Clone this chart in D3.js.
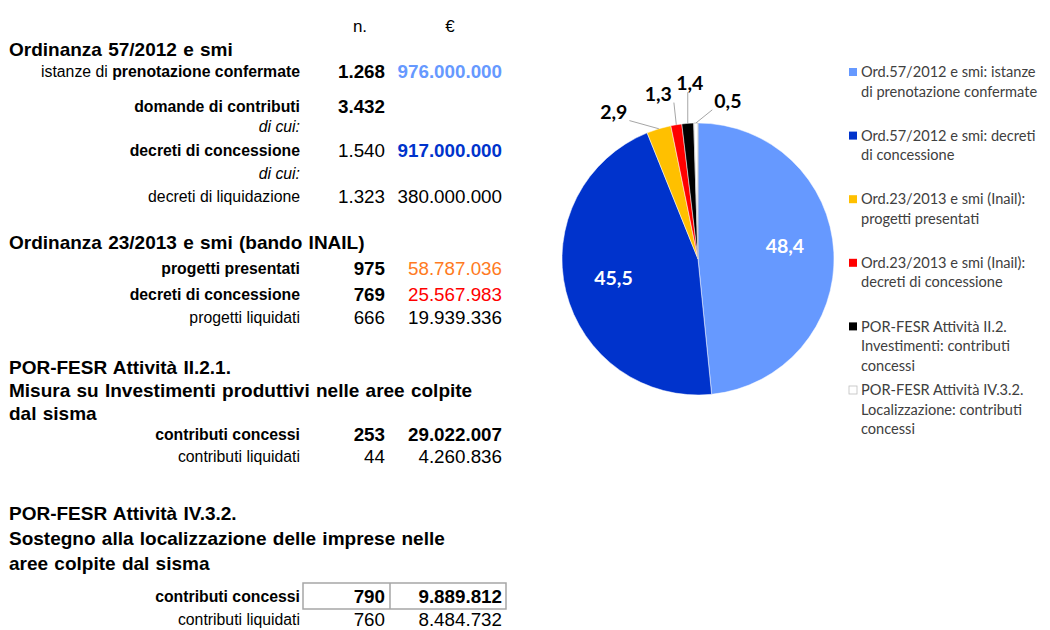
<!DOCTYPE html>
<html>
<head>
<meta charset="utf-8">
<script src="https://cdn.jsdelivr.net/npm/d3@7"></script>
<style>
    body { margin: 0; background: #ffffff; }
    svg { display: block; }
</style>
</head>
<body>
<script>

//  ---- data -------------------------------------------------------------

const columnHeads = ["n.", "€"];

const sectionTitles = [
    ["Ordinanza 57/2012 e smi"],
    ["Ordinanza 23/2013 e smi (bando INAIL)"],
    ["POR-FESR Attività II.2.1.", "Misura su Investimenti produttivi nelle aree colpite", "dal sisma"],
    ["POR-FESR Attività IV.3.2.", "Sostegno alla localizzazione delle imprese nelle", "aree colpite dal sisma"]
];

const rowSection = [0, 0, 0, 0, 0, 0, 1, 1, 1, 2, 2, 3, 3];

const rowLabels = [
    "istanze di prenotazione confermate",
    "domande di contributi",
    "di cui:",
    "decreti di concessione",
    "di cui:",
    "decreti di liquidazione",
    "progetti presentati",
    "decreti di concessione",
    "progetti liquidati",
    "contributi concessi",
    "contributi liquidati",
    "contributi concessi",
    "contributi liquidati"
];

const rowCounts = [1268, 3432, null, 1540, null, 1323, 975, 769, 666, 253, 44, 790, 760];

const rowAmounts = [976000000, null, null, 917000000, null, 380000000,
    58787036, 25567983, 19939336, 29022007, 4260836, 9889812, 8484732];

const sliceNames = [
    ["Ord.57/2012 e smi: istanze", "di prenotazione confermate"],
    ["Ord.57/2012 e smi: decreti", "di concessione"],
    ["Ord.23/2013 e smi (Inail):", "progetti presentati"],
    ["Ord.23/2013 e smi (Inail):", "decreti di concessione"],
    ["POR-FESR Attività II.2.", "Investimenti: contributi", "concessi"],
    ["POR-FESR Attività IV.3.2.", "Localizzazione: contributi", "concessi"]
];

const sliceShares = [48.4, 45.5, 2.9, 1.3, 1.4, 0.5];

//  ---- styles & layout ----------------------------------------------------

const sliceColors = ["#6699ff", "#0033cc", "#ffc000", "#ff0000", "#000000", "#ffffff"];

//  label style: "mix" = first words regular, the rest bold
const rowLabelStyle = ["mix", "bold", "italic", "bold", "italic", "normal",
    "bold", "bold", "normal", "bold", "normal", "bold", "normal"];
const rowCountBold = [1, 1, 0, 0, 0, 0, 1, 1, 0, 1, 0, 1, 0];
const rowAmountBold = [1, 0, 0, 1, 0, 0, 0, 0, 0, 1, 0, 1, 0];
const rowAmountColor = ["#6699ff", null, null, "#0033cc", null, null,
    "#ff7a22", "#ff0000", null, null, null, null, null];
const boxedRow = 11;

//  vertical gap before each line of the table (titles and rows, in order)
const lineGap = [49, 22, 35, 20, 24, 23, 23, 46, 26, 26, 23, 50, 23, 23, 21, 22, 57, 25, 25, 33, 23];

const W = 1050, H = 630;
const tableFont = "'Liberation Sans', Arial, sans-serif";
const chartFont = "Lato, 'Open Sans', sans-serif";

const itLocale = d3.formatLocale({decimal: ",", thousands: ".", grouping: [3], currency: ["", "€"]});
const fmtInt = itLocale.format(",d");
const fmtShare = itLocale.format(".1f");

const svg = d3.select("body").append("svg")
    .attr("width", W)
    .attr("height", H);

//  ---- table --------------------------------------------------------------

const col = {title: 9, label: 300, count: 385, amount: 502};

//  flatten titles and rows into lines
const lines = [];
sectionTitles.forEach((titles, s) => {
    titles.forEach(t => lines.push({kind: "title", text: t}));
    rowSection.forEach((sec, i) => {
        if (sec === s) lines.push({kind: "row", i: i});
    });
});
let yAcc = 0;
lines.forEach((l, k) => {
    yAcc += lineGap[k];
    l.y = yAcc;
});

const table = svg.append("g").attr("font-family", tableFont).attr("fill", "#000");

table.selectAll("text.head")
    .data(columnHeads)
    .join("text")
    .attr("class", "head")
    .attr("x", (d, i) => i === 0 ? 360 : 450)
    .attr("y", 26)
    .attr("dy", "0.35em")
    .attr("text-anchor", "middle")
    .attr("font-size", 17)
    .text(d => d);

table.selectAll("text.title")
    .data(lines.filter(l => l.kind === "title"))
    .join("text")
    .attr("class", "title")
    .attr("x", col.title)
    .attr("y", d => d.y)
    .attr("dy", "0.35em")
    .attr("font-size", 19)
    .attr("font-weight", "bold")
    .attr("word-spacing", 1)
    .text(d => d.text);

const rowLines = lines.filter(l => l.kind === "row");

//  box round the highlighted row
const boxed = rowLines.find(l => l.i === boxedRow);
const box = table.append("g")
    .attr("fill", "none")
    .attr("stroke", "#a6a6a6")
    .attr("stroke-width", 1.5);
box.append("rect")
    .attr("x", 303).attr("y", boxed.y - 13)
    .attr("width", 203).attr("height", 26);
box.append("line")
    .attr("x1", 390).attr("x2", 390)
    .attr("y1", boxed.y - 13).attr("y2", boxed.y + 13);

const labels = table.selectAll("text.label")
    .data(rowLines)
    .join("text")
    .attr("class", "label")
    .attr("x", col.label)
    .attr("y", d => d.y)
    .attr("dy", "0.35em")
    .attr("text-anchor", "end")
    .attr("font-size", 15.8);

labels.each(function (d) {
    const t = d3.select(this);
    const label = rowLabels[d.i];
    const style = rowLabelStyle[d.i];
    if (style === "mix") {
        const k = label.indexOf(" di ") + 4;
        t.append("tspan").text(label.slice(0, k));
        t.append("tspan").attr("font-weight", "bold").text(label.slice(k));
    } else {
        t.attr("font-weight", style === "bold" ? "bold" : "normal")
            .attr("font-style", style === "italic" ? "italic" : "normal")
            .text(label);
    }
});

table.selectAll("text.count")
    .data(rowLines.filter(d => rowCounts[d.i] !== null))
    .join("text")
    .attr("class", "count")
    .attr("x", col.count)
    .attr("y", d => d.y)
    .attr("dy", "0.35em")
    .attr("text-anchor", "end")
    .attr("font-size", 18.8)
    .attr("font-weight", d => rowCountBold[d.i] ? "bold" : "normal")
    .text(d => fmtInt(rowCounts[d.i]));

table.selectAll("text.amount")
    .data(rowLines.filter(d => rowAmounts[d.i] !== null))
    .join("text")
    .attr("class", "amount")
    .attr("x", col.amount)
    .attr("y", d => d.y)
    .attr("dy", "0.35em")
    .attr("text-anchor", "end")
    .attr("font-size", 18.8)
    .attr("font-weight", d => rowAmountBold[d.i] ? "bold" : "normal")
    .attr("fill", d => rowAmountColor[d.i] || "#000")
    .text(d => fmtInt(rowAmounts[d.i]));

//  ---- pie ----------------------------------------------------------------

const R = 136;
const pieG = svg.append("g").attr("transform", "translate(698,259)");

const pie = d3.pie().sort(null).value(d => d);
const arcs = pie(sliceShares);
const arc = d3.arc().innerRadius(0).outerRadius(R);
const innerLabelArc = d3.arc().innerRadius(R * 0.64).outerRadius(R * 0.64);
const edgeArc = d3.arc().innerRadius(R).outerRadius(R);

pieG.selectAll("path")
    .data(arcs)
    .join("path")
    .attr("d", arc)
    .attr("fill", (d, i) => sliceColors[i])
    .attr("stroke", (d, i) => i === 5 ? "#bfbfbf" : "#ffffff")
    .attr("stroke-width", (d, i) => i === 5 ? 0.8 : 0.5);

//  big slices: label inside, white
pieG.selectAll("text.inner")
    .data(arcs.filter(d => d.value > 10))
    .join("text")
    .attr("class", "inner")
    .attr("transform", d => {
        const c = innerLabelArc.centroid(d);
        return `translate(${c[0]},${c[1] - (d.index === 0 ? 8 : 2)})`;
    })
    .attr("dy", "0.35em")
    .attr("text-anchor", "middle")
    .attr("font-family", chartFont)
    .attr("font-size", 19.5)
    .attr("font-weight", "bold")
    .attr("fill", "#ffffff")
    .text(d => fmtShare(d.value));

//  small slices: label outside with a leader line
//  offsets of the label from the slice's edge point, as Excel spread them
const outerLabelOffset = [[-45, -17], [-18, -31], [2, -40], [32, -22]];
const smallArcs = arcs.filter(d => d.value <= 10);

const outer = pieG.selectAll("g.outer")
    .data(smallArcs)
    .join("g")
    .attr("class", "outer");

outer.each(function (d, k) {
    const g = d3.select(this);
    const e = edgeArc.centroid(d);
    const lx = e[0] + outerLabelOffset[k][0];
    const ly = e[1] + outerLabelOffset[k][1];
    const txt = g.append("text")
        .attr("x", lx)
        .attr("y", ly)
        .attr("dy", "0.35em")
        .attr("text-anchor", "middle")
        .attr("font-family", chartFont)
        .attr("font-size", 19.5)
        .attr("font-weight", "bold")
        .attr("fill", "#000")
        .text(fmtShare(d.value));
    const bb = txt.node().getBBox();
    const pad = 2;
    const ax = Math.max(bb.x - pad, Math.min(e[0], bb.x + bb.width + pad));
    const ay = Math.max(bb.y + 4, Math.min(e[1], bb.y + bb.height - 2));
    g.insert("line", "text")
        .attr("x1", e[0]).attr("y1", e[1])
        .attr("x2", ax).attr("y2", ay)
        .attr("stroke", "#a6a6a6")
        .attr("stroke-width", 1);
});

//  ---- legend -------------------------------------------------------------

const legend = svg.append("g")
    .attr("transform", "translate(849,72)")
    .attr("font-family", chartFont)
    .attr("font-size", 14.6)
    .attr("fill", "#404040");

const entry = legend.selectAll("g")
    .data(sliceNames)
    .join("g")
    .attr("transform", (d, i) => `translate(0,${i * 63.6})`);

entry.append("rect")
    .attr("x", 0).attr("y", -4)
    .attr("width", 8).attr("height", 8)
    .attr("fill", (d, i) => sliceColors[i])
    .attr("stroke", (d, i) => i === 5 ? "#bfbfbf" : "none")
    .attr("stroke-width", 0.8);

entry.selectAll("text")
    .data(d => d)
    .join("text")
    .attr("x", 12)
    .attr("y", (d, j) => j * 19.5)
    .attr("dy", "0.35em")
    .text(d => d);

</script>
</body>
</html>
